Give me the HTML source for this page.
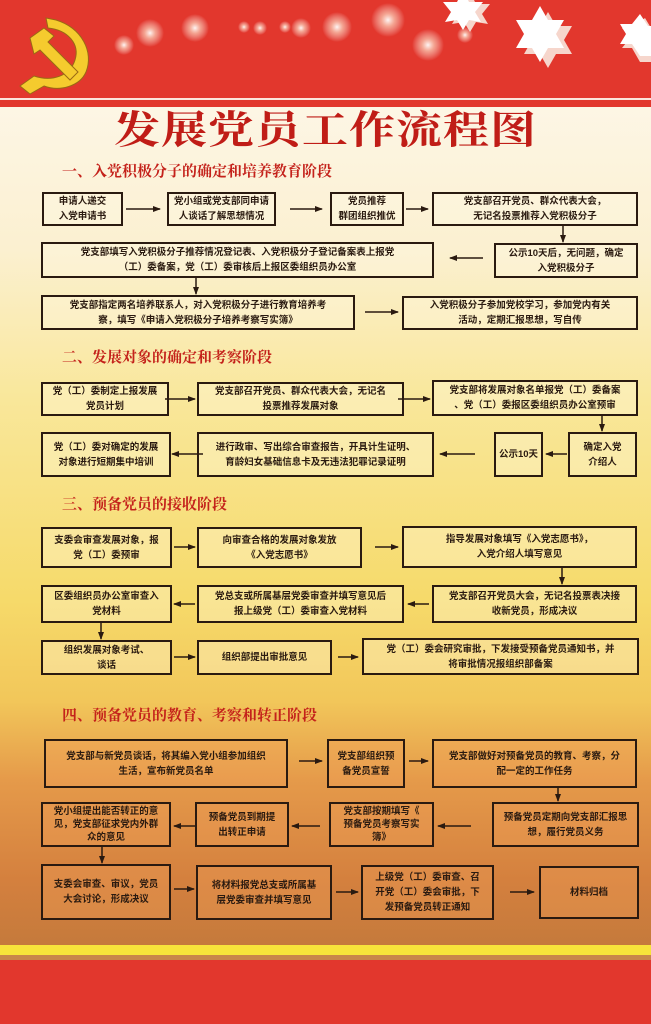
<!DOCTYPE html>
<html><head><meta charset="utf-8"><style>
*{margin:0;padding:0;box-sizing:border-box}
body{width:651px;height:1024px;position:relative;overflow:hidden;font-family:"Liberation Sans","Noto Sans CJK SC",sans-serif;
background:linear-gradient(180deg,#fdf6e6 100px,#fbf0d0 250px,#f9e79a 400px,#f6da6a 600px,#f2c75a 700px,#e59a4a 780px,#d4803e 880px,#c57a3c 945px);}
.b{position:absolute;border:2px solid #2a1a10;display:flex;align-items:center;justify-content:center;text-align:center;font-size:9.5px;font-weight:bold;line-height:15px;color:#2a1a10;padding:0 2px;background:rgba(255,250,225,0.35);white-space:nowrap}
.lo .b{background:rgba(240,160,90,0.35)}
.t3{line-height:13px!important}
.h{position:absolute;left:62px;font-family:"Liberation Serif","Noto Serif CJK SC",serif;font-weight:bold;font-size:15px;color:#c4221b;white-space:nowrap}
svg{position:absolute;left:0;top:0}
</style></head><body>
<div style="position:absolute;left:0;top:0;width:651px;height:98px;background:#e2372d"></div>
<svg width="651" height="110">
<defs><radialGradient id="g"><stop offset="0" stop-color="#fff" stop-opacity=".95"/><stop offset=".4" stop-color="#ffe8d0" stop-opacity=".6"/><stop offset="1" stop-color="#fff" stop-opacity="0"/></radialGradient></defs>
<g fill="url(#g)"><circle cx="124" cy="45" r="10"/><circle cx="150" cy="33" r="14"/><circle cx="195" cy="28" r="14"/><circle cx="244" cy="27" r="6"/><circle cx="260" cy="28" r="7"/><circle cx="285" cy="27" r="6"/><circle cx="301" cy="28" r="10"/><circle cx="337" cy="27" r="15"/><circle cx="388" cy="20" r="17"/><circle cx="428" cy="45" r="16"/><circle cx="465" cy="35" r="8"/></g>
<g fill="#f6d6cc"><polygon points="548,12 556,26 572,26 564,40 572,54 556,54 548,68 540,54 524,54 532,40 524,26 540,26"/><polygon points="645,18 651,28 651,62 640,62 632,48 622,48 630,38 622,28 632,28"/><polygon points="470,-8 476,4 490,4 482,14 488,24 476,22 470,32 464,22 452,24 458,14 450,4 464,4"/></g>
<g fill="#fff"><polygon points="540,6 548,20 564,20 556,34 564,48 548,48 540,62 532,48 516,48 524,34 516,20 532,20"/><polygon points="640,14 648,26 651,26 651,56 640,56 632,44 620,44 626,34 620,24 632,24"/><polygon points="463,-10 469,2 483,2 475,12 481,22 469,20 463,30 457,20 445,22 451,12 443,2 457,2"/></g>
<rect x="0" y="98" width="651" height="2" fill="#fbe5dc"/><rect x="0" y="100" width="651" height="7" fill="#e2372d"/>
<g fill="#f5cb2e" stroke="#9a6a14" stroke-width="1">
<path d="M46 18 L56 20 C82 28 94 52 86 72 C80 86 60 92 44 86 L30 94 L20 86 L34 76 C52 82 70 76 75 60 C80 44 68 30 48 28 Z"/>
<path d="M30 38 L44 28 L54 36 L48 42 L78 72 L70 80 L40 50 L34 54 Z"/>
</g>
</svg>
<div style="position:absolute;left:0;top:108px;width:651px;text-align:center;font-family:'Liberation Serif','Noto Serif CJK SC',serif;font-weight:bold;font-size:46px;line-height:46px;color:#c01d17;transform:scaleY(0.85);letter-spacing:1px">发展党员工作流程图</div>

<div class="h" style="top:160px">一、入党积极分子的确定和培养教育阶段</div>
<div class="h" style="top:346px">二、发展对象的确定和考察阶段</div>
<div class="h" style="top:493px">三、预备党员的接收阶段</div>
<div class="h" style="top:704px">四、预备党员的教育、考察和转正阶段</div>

<div class="b" style="left:42px;top:192px;width:81px;height:34px">申请人递交<br>入党申请书</div>
<div class="b" style="left:167px;top:192px;width:109px;height:34px">党小组或党支部同申请<br>人谈话了解思想情况</div>
<div class="b" style="left:330px;top:192px;width:74px;height:34px">党员推荐<br>群团组织推优</div>
<div class="b" style="left:432px;top:192px;width:206px;height:34px">党支部召开党员、群众代表大会，<br>无记名投票推荐入党积极分子</div>
<div class="b" style="left:41px;top:242px;width:393px;height:36px">党支部填写入党积极分子推荐情况登记表、入党积极分子登记备案表上报党<br>（工）委备案，党（工）委审核后上报区委组织员办公室</div>
<div class="b" style="left:494px;top:243px;width:144px;height:35px">公示10天后，无问题，确定<br>入党积极分子</div>
<div class="b" style="left:41px;top:295px;width:314px;height:35px">党支部指定两名培养联系人，对入党积极分子进行教育培养考<br>察，填写《申请入党积极分子培养考察写实簿》</div>
<div class="b" style="left:402px;top:296px;width:236px;height:34px">入党积极分子参加党校学习，参加党内有关<br>活动，定期汇报思想，写自传</div>

<div class="b" style="left:41px;top:382px;width:128px;height:34px">党（工）委制定上报发展<br>党员计划</div>
<div class="b" style="left:197px;top:382px;width:207px;height:34px">党支部召开党员、群众代表大会，无记名<br>投票推荐发展对象</div>
<div class="b" style="left:432px;top:380px;width:206px;height:36px">党支部将发展对象名单报党（工）委备案<br>、党（工）委报区委组织员办公室预审</div>
<div class="b" style="left:41px;top:432px;width:130px;height:45px">党（工）委对确定的发展<br>对象进行短期集中培训</div>
<div class="b" style="left:197px;top:432px;width:237px;height:45px">进行政审、写出综合审查报告，开具计生证明、<br>育龄妇女基础信息卡及无违法犯罪记录证明</div>
<div class="b" style="left:494px;top:432px;width:49px;height:45px">公示10天</div>
<div class="b" style="left:568px;top:432px;width:69px;height:45px">确定入党<br>介绍人</div>

<div class="b" style="left:41px;top:527px;width:131px;height:41px">支委会审查发展对象，报<br>党（工）委预审</div>
<div class="b" style="left:197px;top:527px;width:165px;height:41px">向审查合格的发展对象发放<br>《入党志愿书》</div>
<div class="b" style="left:402px;top:526px;width:235px;height:42px">指导发展对象填写《入党志愿书》，<br>入党介绍人填写意见</div>
<div class="b" style="left:41px;top:585px;width:131px;height:38px">区委组织员办公室审查入<br>党材料</div>
<div class="b" style="left:197px;top:585px;width:207px;height:38px">党总支或所属基层党委审查并填写意见后<br>报上级党（工）委审查入党材料</div>
<div class="b" style="left:432px;top:585px;width:205px;height:38px">党支部召开党员大会，无记名投票表决接<br>收新党员，形成决议</div>
<div class="b" style="left:41px;top:640px;width:131px;height:35px">组织发展对象考试、<br>谈话</div>
<div class="b" style="left:197px;top:640px;width:135px;height:35px">组织部提出审批意见</div>
<div class="b" style="left:362px;top:638px;width:277px;height:37px">党（工）委会研究审批，下发接受预备党员通知书，并<br>将审批情况报组织部备案</div>

<div class="lo">
<div class="b" style="left:44px;top:739px;width:244px;height:49px">党支部与新党员谈话，将其编入党小组参加组织<br>生活，宣布新党员名单</div>
<div class="b" style="left:327px;top:739px;width:78px;height:49px">党支部组织预<br>备党员宣誓</div>
<div class="b" style="left:432px;top:739px;width:205px;height:49px">党支部做好对预备党员的教育、考察，分<br>配一定的工作任务</div>
<div class="b t3" style="left:41px;top:802px;width:130px;height:45px">党小组提出能否转正的意<br>见，党支部征求党内外群<br>众的意见</div>
<div class="b" style="left:195px;top:802px;width:94px;height:45px">预备党员到期提<br>出转正申请</div>
<div class="b t3" style="left:329px;top:802px;width:105px;height:45px">党支部按期填写《<br>预备党员考察写实<br>簿》</div>
<div class="b" style="left:492px;top:802px;width:147px;height:45px">预备党员定期向党支部汇报思<br>想，履行党员义务</div>
<div class="b" style="left:41px;top:864px;width:130px;height:56px">支委会审查、审议，党员<br>大会讨论，形成决议</div>
<div class="b" style="left:196px;top:865px;width:136px;height:55px">将材料报党总支或所属基<br>层党委审查并填写意见</div>
<div class="b" style="left:361px;top:865px;width:133px;height:55px">上级党（工）委审查、召<br>开党（工）委会审批，下<br>发预备党员转正通知</div>
<div class="b" style="left:539px;top:866px;width:100px;height:53px">材料归档</div>
</div>

<div style="position:absolute;left:0;top:945px;width:651px;height:10px;background:#f7e43a"></div>
<div style="position:absolute;left:0;top:955px;width:651px;height:5px;background:#c8864a"></div>
<div style="position:absolute;left:0;top:960px;width:651px;height:64px;background:#e2372d"></div>

<svg width="651" height="1024">
<defs><marker id="a" markerWidth="8" markerHeight="8" refX="7" refY="4" orient="auto" markerUnits="userSpaceOnUse"><path d="M0,1 L8,4 L0,7 Z" fill="#2a1a10"/></marker></defs>
<g stroke="#2a1a10" stroke-width="1.5" marker-end="url(#a)" fill="none">
<line x1="126" y1="209" x2="160" y2="209"/><line x1="290" y1="209" x2="322" y2="209"/><line x1="406" y1="209" x2="428" y2="209"/>
<line x1="563" y1="226" x2="563" y2="242"/><line x1="483" y1="258" x2="450" y2="258"/>
<line x1="196" y1="278" x2="196" y2="294"/><line x1="365" y1="312" x2="398" y2="312"/>
<line x1="165" y1="399" x2="195" y2="399"/><line x1="398" y1="399" x2="430" y2="399"/>
<line x1="602" y1="416" x2="602" y2="431"/><line x1="203" y1="454" x2="172" y2="454"/><line x1="475" y1="454" x2="440" y2="454"/><line x1="567" y1="454" x2="546" y2="454"/>
<line x1="174" y1="547" x2="195" y2="547"/><line x1="375" y1="547" x2="398" y2="547"/>
<line x1="562" y1="568" x2="562" y2="584"/><line x1="195" y1="604" x2="174" y2="604"/><line x1="429" y1="604" x2="408" y2="604"/>
<line x1="101" y1="623" x2="101" y2="639"/><line x1="174" y1="657" x2="195" y2="657"/><line x1="338" y1="657" x2="358" y2="657"/>
<line x1="299" y1="761" x2="322" y2="761"/><line x1="409" y1="761" x2="428" y2="761"/>
<line x1="558" y1="788" x2="558" y2="801"/><line x1="195" y1="826" x2="174" y2="826"/><line x1="320" y1="826" x2="292" y2="826"/><line x1="471" y1="826" x2="438" y2="826"/>
<line x1="102" y1="847" x2="102" y2="863"/><line x1="174" y1="889" x2="194" y2="889"/><line x1="336" y1="892" x2="358" y2="892"/><line x1="510" y1="892" x2="534" y2="892"/>
</g></svg>
</body></html>
